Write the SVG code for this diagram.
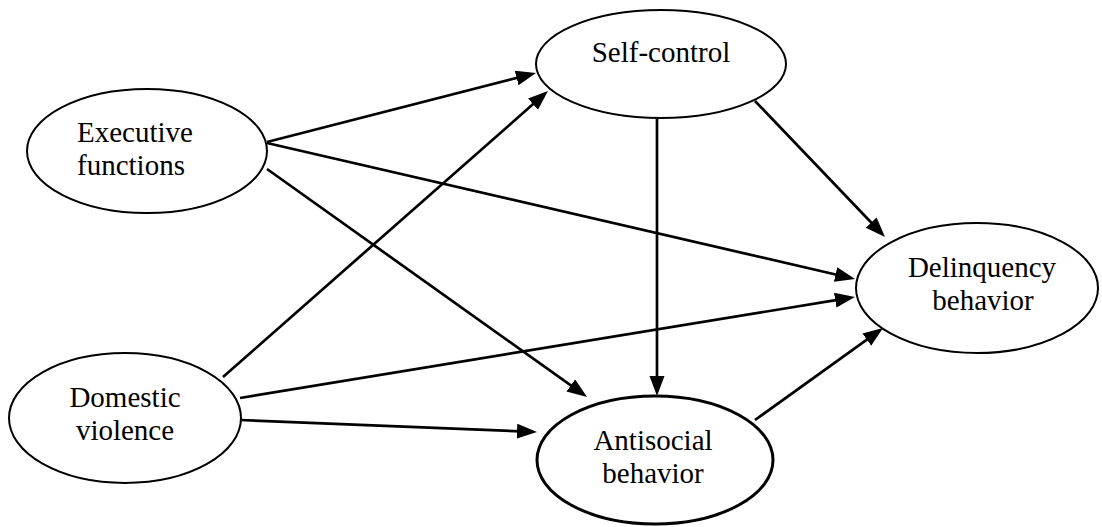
<svg xmlns="http://www.w3.org/2000/svg" width="1102" height="527" viewBox="0 0 1102 527">
<style>
.node{fill:#fff;stroke:#000;stroke-width:2}
.thick{stroke-width:3}
.lbl{font-family:"Liberation Serif","Times New Roman",serif;font-size:29px;fill:#000}
.c{text-anchor:middle}
.edge{stroke:#000;stroke-width:2.7;fill:none;marker-end:url(#ah)}
</style>
<defs>
<marker id="ah" markerUnits="userSpaceOnUse" markerWidth="20" markerHeight="16" refX="10" refY="7.5" orient="auto">
<path d="M0,0 L20,7.5 L0,15 z" fill="#000"/>
</marker>
</defs>
<rect width="1102" height="527" fill="#fff"/>
<g id="connectors">
<line class="edge" x1="267" y1="142" x2="526.3" y2="75.5"/>
<line class="edge" x1="267" y1="143" x2="845.3" y2="276.7"/>
<line class="edge" x1="267" y1="169" x2="578.9" y2="391.2"/>
<line class="edge" x1="223" y1="377" x2="540.5" y2="97.6"/>
<line class="edge" x1="240" y1="398" x2="845.1" y2="298.6"/>
<line class="edge" x1="240" y1="420" x2="527" y2="431.6"/>
<line class="edge" x1="657" y1="119" x2="657" y2="386"/>
<line class="edge" x1="755" y1="101" x2="878.1" y2="229.8"/>
<line class="edge" x1="755" y1="420" x2="874.9" y2="333.8"/>
</g>
<g id="executive">
<ellipse class="node" cx="147" cy="151" rx="120" ry="62"/>
<text class="lbl" x="77" y="142">Executive</text>
<text class="lbl" x="77" y="175">functions</text>
</g>
<g id="selfcontrol">
<ellipse class="node" cx="661" cy="64" rx="125" ry="54"/>
<text class="lbl c" x="661" y="62">Self-control</text>
</g>
<g id="delinquency">
<ellipse class="node" cx="977" cy="288" rx="121" ry="65"/>
<text class="lbl c" x="982" y="277">Delinquency</text>
<text class="lbl c" x="983" y="310">behavior</text>
</g>
<g id="domestic">
<ellipse class="node" cx="125" cy="418" rx="116" ry="65"/>
<text class="lbl c" x="125" y="407">Domestic</text>
<text class="lbl c" x="125" y="440">violence</text>
</g>
<g id="antisocial">
<ellipse class="node thick" cx="655" cy="460" rx="118" ry="64"/>
<text class="lbl c" x="653" y="450">Antisocial</text>
<text class="lbl c" x="653" y="483">behavior</text>
</g>
</svg>
